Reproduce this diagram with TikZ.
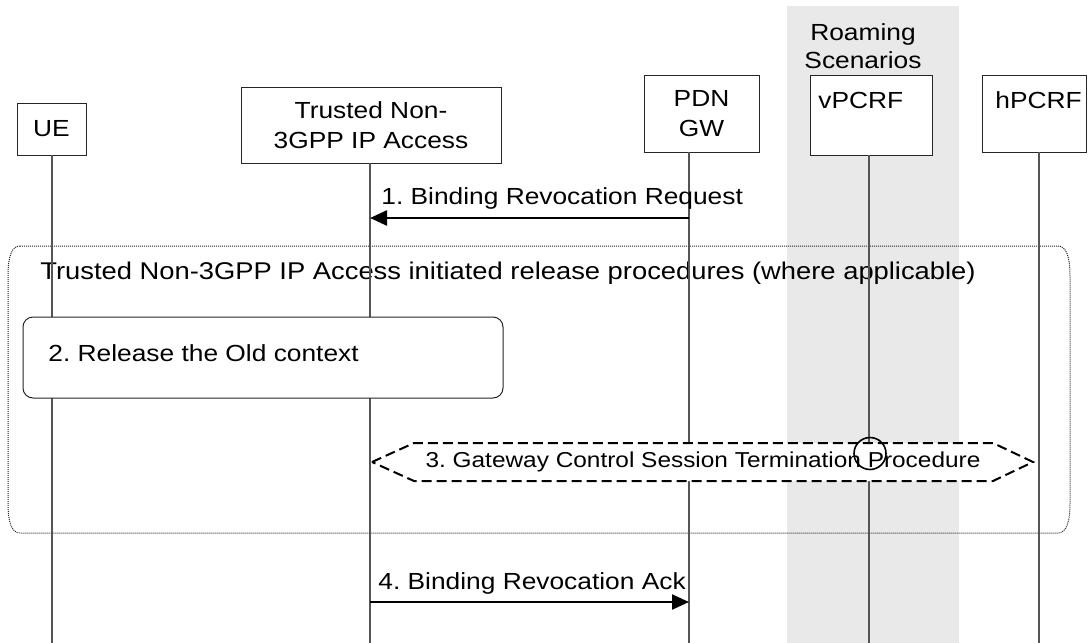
\documentclass[tikz,border=0pt]{standalone}
\usepackage{fontspec}
\setmainfont{Liberation Sans}[FakeStretch=1.13]
\usetikzlibrary{arrows.meta}
\definecolor{roam}{RGB}{233,233,233}
\definecolor{lline}{RGB}{85,85,85}
\frenchspacing
\begin{document}
\begin{tikzpicture}[x=0.5pt,y=-0.5pt,
  font=\fontsize{11.65pt}{15pt}\selectfont,
  box/.style={draw=black!85, line width=0.5pt, fill=white, inner sep=0pt, align=center},
  life/.style={draw=lline, line width=0.6pt},
  msg/.style={line width=1.2pt, -{Triangle[length=8.5pt,width=7.5pt]}},
  lbl/.style={anchor=west, inner sep=0pt}]
\useasboundingbox (0,0) rectangle (1088,643);
% roaming background
\fill[roam] (787,6) rectangle (959,643);
\node[align=center, inner sep=0pt, font=\fontsize{11.65pt}{14pt}\selectfont] (roamlbl) at (863,46) {Roaming\\Scenarios};
% dotted procedure frame
\draw[black!85, line width=0.5pt, dash pattern=on 0.5pt off 0.5pt]
  (20,246) -- (1058,246) .. controls (1066,246) and (1070,256) .. (1070,276)
  -- (1070,503) .. controls (1070,523) and (1066,533) .. (1058,533)
  -- (20,533) .. controls (12,533) and (8,523) .. (8,503)
  -- (8,276) .. controls (8,256) and (12,246) .. (20,246) -- cycle;
\node[lbl, font=\fontsize{12.1pt}{15pt}\selectfont] (proc) at (40,273) {Trusted Non-3GPP IP Access initiated release procedures (where applicable)};
% entity boxes
\node[box, minimum width=34.5pt, minimum height=26pt] (ue) at (51.5,129) {UE};
\node[box, minimum width=130pt, minimum height=38pt] (tna) at (371,125) {Trusted Non-\\3GPP IP Access};
\node[box, minimum width=57.5pt, minimum height=38.5pt] (pdn) at (701.5,113.5) {PDN\\GW};
\node[box, minimum width=61pt, minimum height=40pt] (vpcrf) at (871,115) {};
\node[box, minimum width=52pt, minimum height=38.5pt] (hpcrf) at (1034,113.5) {};
\node[lbl] (vlab) at (818,100) {vPCRF};
\node[lbl] (hlab) at (995,100) {hPCRF};
% lifelines
\coordinate (ueT) at (52,155);   \coordinate (ueB) at (52,643);
\coordinate (tnaT) at (370,163); \coordinate (tnaB) at (370,643);
\coordinate (pdnT) at (689,152); \coordinate (pdnB) at (689,643);
\coordinate (vT) at (869,155);   \coordinate (vB) at (869,643);
\coordinate (hT) at (1039,152);  \coordinate (hB) at (1039,643);
\draw[life] (ueT) -- (ueB);
\draw[life] (tnaT) -- (tnaB);
\draw[life] (pdnT) -- (pdnB);
\draw[life] (vT) -- (vB);
\draw[life] (hT) -- (hB);
% 1
\coordinate (m1s) at (689,218); \coordinate (m1e) at (370,218);
\draw[msg] (m1s) -- (m1e);
\node[lbl] (l1) at (381,198) {1. Binding Revocation Request};
% 2
\node[draw=black!85, line width=0.5pt, fill=white, rounded corners=5pt,
      minimum width=240pt, minimum height=40.5pt] (rel) at (263,357.5) {};
\node[lbl] (l2) at (48,353) {2. Release the Old context};
% 3
\draw[line width=1pt, dash pattern=on 5pt off 2.5pt, fill=white]
  (372,462) -- (414,443) -- (993,443) -- (1033,462) -- (993,481) -- (414,481) -- cycle;
\node[draw, line width=0.8pt, circle, minimum size=16pt, inner sep=0pt] (circ) at (870,453.5) {};
\node[inner sep=0pt, font=\fontsize{10.8pt}{13pt}\selectfont] (l3) at (703,462) {3. Gateway Control Session Termination Procedure};
% 4
\coordinate (m4s) at (370,602); \coordinate (m4e) at (689,602);
\draw[msg] (m4s) -- (m4e);
\node[lbl] (l4) at (378,583) {4. Binding Revocation Ack};
\end{tikzpicture}
\end{document}
